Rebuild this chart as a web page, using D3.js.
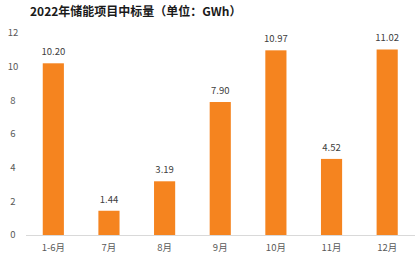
<!DOCTYPE html>
<html lang="zh">
<head>
  <meta charset="UTF-8">
  <title>2022年储能项目中标量</title>
  <style>
    body { margin: 0; background: #fff; }
    svg { display: block; font-family: "Noto Sans CJK SC", "Noto Sans", sans-serif; }
    .title { font-size: 12px; font-weight: bold; fill: #1a1a1a; }
    .tick-label { font-size: 9.5px; fill: #595959; }
    .cat-label { font-size: 9.5px; fill: #595959; }
    .val-label { font-size: 9.5px; fill: #404040; }
  </style>
</head>
<body>
  <svg></svg>
  <script src="https://d3js.org/d3.v7.min.js"></script>
  <script>
    const categories = ["1-6月", "7月", "8月", "9月", "10月", "11月", "12月"];
    const values = [10.20, 1.44, 3.19, 7.90, 10.97, 4.52, 11.02];
    const yTicks = [0, 2, 4, 6, 8, 10, 12];

    const width = 420, height = 258;
    const svg = d3.select("svg").attr("width", width).attr("height", height);

    const x = d3.scaleBand()
      .domain(categories)
      .range([25.5, 415])
      .paddingInner(0.62)
      .paddingOuter(0.31);

    const y = d3.scaleLinear().domain([0, 12]).range([235, 33]);

    svg.append("text")
      .attr("class", "title")
      .attr("x", 30)
      .attr("y", 16)
      .text("2022年储能项目中标量（单位：GWh）");

    // y tick labels (no gridlines)
    svg.selectAll(".tick-label")
      .data(yTicks)
      .enter().append("text")
      .attr("class", "tick-label")
      .attr("x", 13)
      .attr("y", d => y(d))
      .attr("dy", "0.35em")
      .attr("text-anchor", "middle")
      .text(d => d);

    // baseline
    svg.append("line")
      .attr("x1", 26).attr("x2", 415)
      .attr("y1", y(0) + 0.5).attr("y2", y(0) + 0.5)
      .attr("stroke", "#d9d9d9")
      .attr("stroke-width", 1);

    const data = categories.map((c, i) => ({ cat: c, value: values[i] }));

    svg.selectAll(".bar")
      .data(data)
      .enter().append("rect")
      .attr("class", "bar")
      .attr("x", d => x(d.cat))
      .attr("y", d => y(d.value))
      .attr("width", x.bandwidth())
      .attr("height", d => y(0) - y(d.value))
      .attr("fill", "#f5841f");

    svg.selectAll(".val-label")
      .data(data)
      .enter().append("text")
      .attr("class", "val-label")
      .attr("x", d => x(d.cat) + x.bandwidth() / 2)
      .attr("y", d => y(d.value) - 8)
      .attr("text-anchor", "middle")
      .text(d => d.value.toFixed(2));

    svg.selectAll(".cat-label")
      .data(categories)
      .enter().append("text")
      .attr("class", "cat-label")
      .attr("x", d => x(d) + x.bandwidth() / 2)
      .attr("y", 248)
      .attr("dy", "0.35em")
      .attr("text-anchor", "middle")
      .text(d => d);
  </script>
</body>
</html>
